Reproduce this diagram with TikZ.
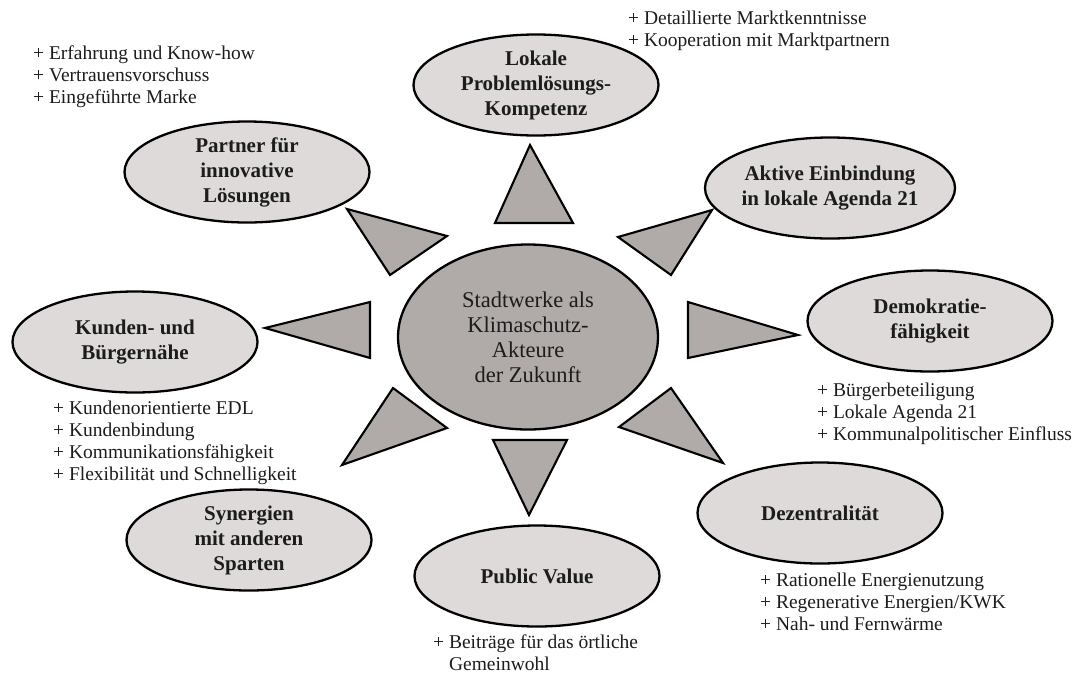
\documentclass[tikz,border=0pt]{standalone}
\usepackage{fontspec}
\setmainfont{Liberation Serif}
\usetikzlibrary{shapes.geometric}

\definecolor{hubgray}{RGB}{176,171,168}
\definecolor{leafgray}{RGB}{221,218,217}
\definecolor{ink}{RGB}{28,28,28}

\tikzset{
  leaf/.style={ellipse, draw=black, line width=2.3pt, fill=leafgray,
    minimum width=245pt, minimum height=101pt, inner sep=0pt,
    align=center, text=ink, font=\fontsize{21}{25}\selectfont\bfseries},
  hub/.style={ellipse, draw=black, line width=2.3pt, fill=hubgray,
    minimum width=260pt, minimum height=185pt, inner sep=0pt,
    align=center, text=ink, font=\fontsize{22.5}{25}\selectfont},
  ray/.style={draw=black, line width=2.1pt, fill=hubgray, line join=miter},
  notes/.style={anchor=north west, align=left, inner sep=0pt, text=ink,
    font=\fontsize{19.5}{22}\selectfont}
}

\begin{document}
\begin{tikzpicture}[x=1pt, y=-1pt]
\useasboundingbox (0,0) rectangle (1081,675);

% central actor
\node[hub] (hub) at (528,337) {Stadtwerke als\\Klimaschutz-\\Akteure\\der Zukunft};

% surrounding qualities
\node[leaf] (lokal)  at (536,85)  {Lokale\\Problemlösungs-\\Kompetenz};
\node[leaf] (aktiv)  at (830,188) {Aktive Einbindung\\in lokale Agenda 21};
\node[leaf] (demo)   at (930,321) {Demokratie-\\fähigkeit};
\node[leaf] (dezent) at (820,513) {Dezentralität};
\node[leaf] (public) at (537,576) {Public Value};
\node[leaf] (syn)    at (249,540) {Synergien\\mit anderen\\Sparten};
\node[leaf] (kunden) at (135,342) {Kunden- und\\Bürgernähe};
\node[leaf] (partner) at (247,172) {Partner für\\innovative\\Lösungen};

% rays pointing from the hub towards each quality
\filldraw[ray] (530,145) -- (495,223) -- (573,223) -- cycle;
\filldraw[ray] (712,210) -- (618,237) -- (671,275) -- cycle;
\filldraw[ray] (798,335) -- (688,302) -- (688,358) -- cycle;
\filldraw[ray] (723,463) -- (619,427) -- (671,388) -- cycle;
\filldraw[ray] (529,515) -- (493,440) -- (567,440) -- cycle;
\filldraw[ray] (342,465) -- (393,388) -- (447,428) -- cycle;
\filldraw[ray] (265,328) -- (370,302) -- (370,358) -- cycle;
\filldraw[ray] (347,209) -- (447,236) -- (390,275) -- cycle;

% strengths listed beside the qualities
\node[notes] (npartner) at (33,46)
  {+ Erfahrung und Know-how\\+ Vertrauensvorschuss\\+ Eingeführte Marke};
\node[notes] (nlokal) at (628,11)
  {+ Detaillierte Marktkenntnisse\\+ Kooperation mit Marktpartnern};
\node[notes] (ndemo) at (817,383)
  {+ Bürgerbeteiligung\\+ Lokale Agenda 21\\+ Kommunalpolitischer Einfluss};
\node[notes] (nkunden) at (53,401)
  {+ Kundenorientierte EDL\\+ Kundenbindung\\+ Kommunikationsfähigkeit\\+ Flexibilität und Schnelligkeit};
\node[notes] (ndezent) at (760,573)
  {+ Rationelle Energienutzung\\+ Regenerative Energien/KWK\\+ Nah- und Fernwärme};
\node[notes] (npublic) at (433,635)
  {+ Beiträge für das örtliche\\\phantom{+ }Gemeinwohl};
\end{tikzpicture}
\end{document}
